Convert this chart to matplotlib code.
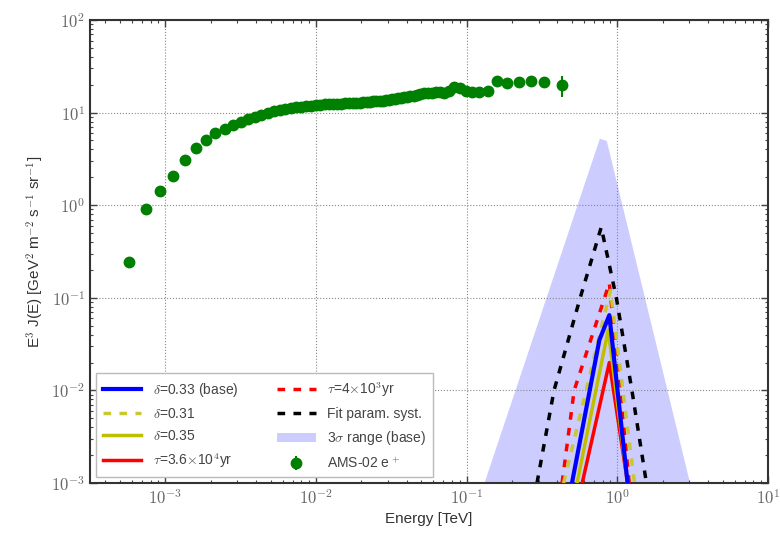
import numpy as np
import matplotlib
matplotlib.use("Agg")
import matplotlib.pyplot as plt
from matplotlib.ticker import FuncFormatter, LogLocator

plt.rcParams['mathtext.fontset'] = 'cm'
plt.rcParams['font.family'] = ['Liberation Sans', 'DejaVu Sans']

# AMS-02 positrons, energy in GeV, E^3 J(E)
ams_e = [0.57, 0.74, 0.92, 1.13, 1.35, 1.60, 1.85, 2.15, 2.47, 2.82, 3.18, 3.55,
         3.92, 4.33, 4.77, 5.24, 5.74, 6.27, 6.82, 7.39, 7.99, 8.62, 9.28, 9.96,
         10.7, 11.4, 12.2, 13.0, 13.8, 14.7, 15.6, 16.5, 17.5, 18.5, 19.5, 20.6,
         21.7, 22.8, 24.0, 25.2, 26.5, 27.8, 29.2, 30.6, 32.0, 33.5, 35.1, 36.7,
         38.5, 40.3, 42.3, 44.5, 46.8, 49.3, 52.1, 55.2, 58.5, 62.2, 66.4, 71.0,
         76.4, 82.6, 89.8, 98.3, 108, 121, 138, 158, 185, 222, 267, 326, 430]
ams_f = [0.245, 0.91, 1.42, 2.07, 3.08, 4.15, 5.05, 6.0, 6.7, 7.4, 8.0, 8.6,
         9.0, 9.5, 9.9, 10.3, 10.6, 10.9, 11.2, 11.4, 11.6, 11.8, 11.9, 12.1,
         12.2, 12.3, 12.4, 12.4, 12.5, 12.5, 12.6, 12.6, 12.7, 12.8, 12.8, 12.9,
         13.0, 13.1, 13.2, 13.2, 13.4, 13.5, 13.6, 13.8, 13.9, 14.0, 14.3, 14.4,
         14.6, 14.8, 15.0, 15.2, 15.5, 15.7, 16.1, 16.3, 16.2, 16.5, 16.9, 16.4,
         17.2, 18.8, 18.3, 17.0, 16.6, 16.7, 17.0, 21.9, 20.9, 21.4, 21.9, 21.4, 19.9]
ams_err = [0.03, 0.04, 0.05, 0.06, 0.08, 0.1, 0.1, 0.12, 0.12, 0.13, 0.13, 0.14,
           0.14, 0.15, 0.15, 0.16, 0.16, 0.17, 0.17, 0.18, 0.18, 0.19, 0.2, 0.2,
           0.21, 0.22, 0.23, 0.24, 0.25, 0.26, 0.27, 0.28, 0.3, 0.31, 0.33, 0.35,
           0.37, 0.39, 0.41, 0.43, 0.45, 0.48, 0.5, 0.53, 0.56, 0.6, 0.63, 0.67,
           0.7, 0.75, 0.8, 0.85, 0.9, 0.95, 1.0, 1.05, 1.1, 1.15, 1.2, 1.3,
           1.4, 1.5, 1.6, 1.6, 1.7, 1.8, 1.9, 1.9, 2.0, 2.2, 2.5, 3.0, 5.0]

# model spectra (E in TeV)
band_e = [0.13, 0.76, 0.845, 3.02]
band_f = [1e-3, 5.3, 5.0, 1e-3]

fit_e = [0.293, 0.38, 0.567, 0.782, 0.985, 1.25, 1.56]
fit_f = [1e-3, 1e-2, 0.1, 0.578, 0.1, 1e-2, 1e-3]

tau4e3_e = [0.43, 0.517, 0.885, 1.2]
tau4e3_f = [1e-3, 1e-2, 0.144, 1e-3]

d031_e = [0.44, 0.90, 1.3]
d031_f = [1e-3, 0.12, 1e-3]

d035_e = [0.54, 0.87, 1.17]
d035_f = [1e-3, 0.045, 1e-3]

tau36e4_e = [0.585, 0.885, 1.17]
tau36e4_f = [1e-3, 0.020, 1e-3]

base_e = [0.50, 0.76, 0.885, 1.17]
base_f = [1e-3, 0.035, 0.065, 1e-3]

fig = plt.figure(figsize=(7.8, 5.34), dpi=100)
ax = fig.add_axes([0.1154, 0.0955, 0.8692, 0.867])

ax.fill_between(band_e, 1e-4, band_f, color='blue', alpha=0.2, lw=0,
                label=r'3$\sigma$ range (base)', zorder=1)
ax.plot(fit_e, fit_f, color='k', lw=2.5, dashes=(2.2, 2.4),
        label='Fit param. syst.', zorder=2)
ax.plot(tau4e3_e, tau4e3_f, color='red', lw=2.5, dashes=(2.2, 2.4),
        label=r'$\tau$=4$\times$10$^3$yr', zorder=3)
ax.plot(d031_e, d031_f, color='#c8c832', lw=2.5, dashes=(2.2, 2.4),
        label=r'$\delta$=0.31', zorder=3)
ax.plot(tau36e4_e, tau36e4_f, color='red', lw=2.5,
        label=r'$\tau$=3.6$\times$10$^4$yr', zorder=4)
ax.plot(d035_e, d035_f, color='#bfbf00', lw=2.5,
        label=r'$\delta$=0.35', zorder=4)
ax.plot(base_e, base_f, color='blue', lw=3,
        label=r'$\delta$=0.33 (base)', zorder=5)

e_tev = np.array(ams_e) / 1000.0
ams = ax.errorbar(e_tev, ams_f, yerr=ams_err, fmt='o', color='green',
                  mec='green', ms=7.5, elinewidth=1.5, capsize=0,
                  label=r'AMS-02 e$^+$', zorder=6)

ax.set_xscale('log')
ax.set_yscale('log')
ax.set_xlim(10 ** -3.5, 10)
ax.set_ylim(1e-3, 1e2)

fmt = FuncFormatter(lambda v, p: r'$10^{%d}$' % round(np.log10(v)))
ax.xaxis.set_major_formatter(fmt)
ax.yaxis.set_major_formatter(fmt)
ax.xaxis.set_minor_locator(LogLocator(base=10, subs=np.arange(2, 10), numticks=20))
ax.yaxis.set_minor_locator(LogLocator(base=10, subs=np.arange(2, 10), numticks=20))
ax.tick_params(which='both', direction='in', top=True, right=True,
               labelsize=12, colors='#444444')
ax.tick_params(which='major', length=5, width=1)
ax.tick_params(which='minor', length=2.5, width=0.8)
ax.tick_params(labelcolor='#666666')
ax.grid(True, which='major', ls=':', color='#888888', lw=0.8)
for s in ax.spines.values():
    s.set_linewidth(1.5)
    s.set_color('#333333')

ax.set_xlabel('Energy [TeV]', fontsize=11, color='#333333')
ax.set_ylabel(r'E$^3$ J(E) [GeV$^2$ m$^{-2}$ s$^{-1}$ sr$^{-1}$]',
              fontsize=11, color='#333333')

h, l = ax.get_legend_handles_labels()
order = [r'$\delta$=0.33 (base)', r'$\delta$=0.31', r'$\delta$=0.35',
         r'$\tau$=3.6$\times$10$^4$yr', r'$\tau$=4$\times$10$^3$yr',
         'Fit param. syst.', r'3$\sigma$ range (base)', r'AMS-02 e$^+$']
hd = dict(zip(l, h))
leg = ax.legend([hd[k] for k in order], order, loc='lower left', ncol=2,
                fontsize=10, handlelength=2.8, labelspacing=0.6,
                columnspacing=2.8, borderaxespad=0.4, borderpad=0.5,
                fancybox=False, framealpha=1, edgecolor='#bbbbbb')
for t in leg.get_texts():
    t.set_color('#444444')

fig.savefig('out.png', dpi=100)
